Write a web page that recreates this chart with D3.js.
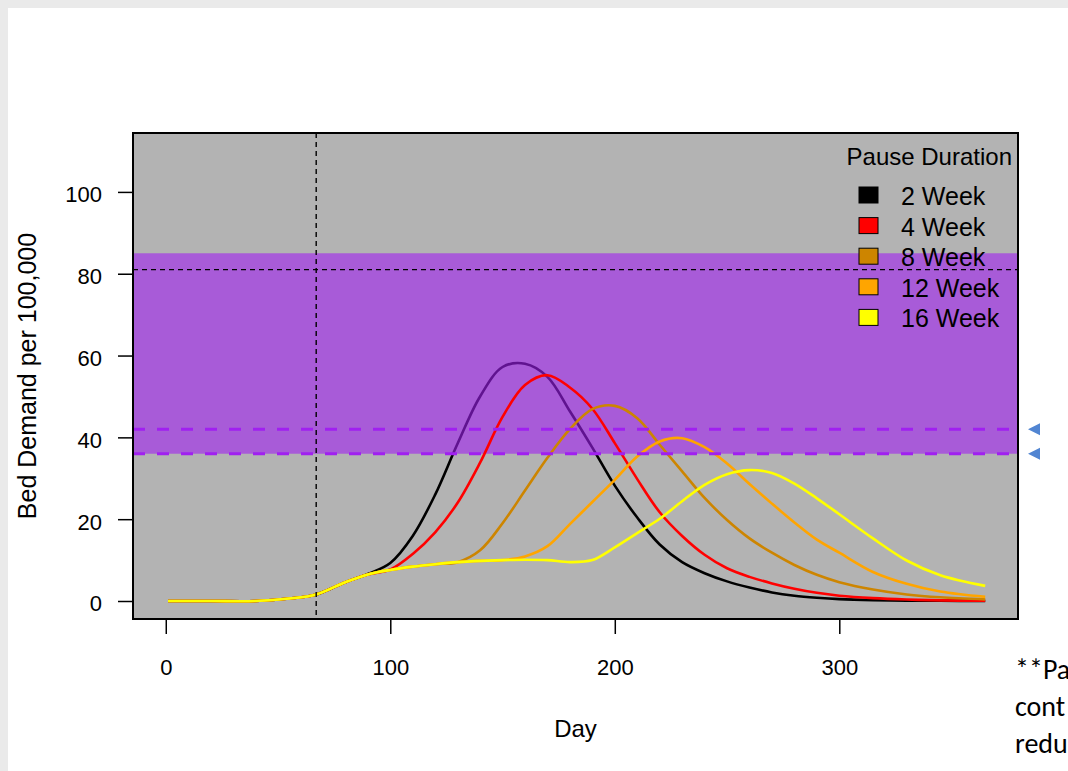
<!DOCTYPE html>
<html>
<head>
<meta charset="utf-8">
<script src="https://cdn.jsdelivr.net/npm/d3@7"></script>
<style>
  body { margin: 0; background: #ffffff; overflow: hidden; }
  svg { display: block; }
</style>
</head>
<body>
<svg id="chart"></svg>
<script>
// bed demand curves by pause duration
var days = [1, 20, 40, 55, 67, 80, 90, 100, 110, 120, 130, 140, 150, 160, 170, 180, 190, 200, 210, 220, 230, 240, 250, 260, 270, 280, 290, 300, 315, 330, 345, 365]

var week2 = [0, 0, 0, 0.6, 1.6, 4.6, 6.6, 9.3, 15.9, 26.0, 38.5, 50.0, 57.2, 58.0, 54.8, 46.4, 37.5, 28.2, 20.4, 13.8, 9.5, 6.8, 4.8, 3.3, 2.1, 1.3, 0.8, 0.45, 0.2, 0.1, 0.05, 0]
var week4 = [0, 0, 0, 0.6, 1.6, 4.6, 6.5, 7.7, 11.5, 16.8, 24.0, 33.8, 45.0, 52.8, 55.2, 52.2, 47.0, 38.6, 29.8, 21.7, 15.9, 11.3, 8.0, 5.9, 4.3, 3.0, 2.0, 1.3, 0.7, 0.35, 0.15, 0.05]
var week8 = [0, 0, 0, 0.6, 1.6, 4.6, 6.5, 7.6, 8.4, 9.0, 9.5, 12.4, 19.0, 27.0, 35.0, 42.0, 46.9, 47.7, 44.7, 38.2, 31.7, 25.2, 19.8, 15.3, 11.8, 8.8, 6.4, 4.6, 2.8, 1.6, 0.9, 0.4]
var week12 = [0, 0, 0, 0.6, 1.6, 4.6, 6.5, 7.6, 8.4, 9.0, 9.5, 9.8, 10.0, 10.9, 13.4, 18.8, 24.2, 29.6, 35.3, 39.0, 39.8, 37.6, 33.6, 28.6, 23.8, 19.2, 15.0, 11.8, 7.1, 4.2, 2.3, 1.0]
var week16 = [0, 0, 0, 0.6, 1.6, 4.6, 6.5, 7.6, 8.4, 9.0, 9.5, 9.8, 10.0, 10.1, 10.0, 9.5, 10.0, 13.1, 16.6, 20.1, 24.4, 28.4, 31.0, 32.0, 31.3, 28.7, 25.1, 21.2, 15.3, 9.9, 6.3, 3.7]

var seriesNames = ["2 Week", "4 Week", "8 Week", "12 Week", "16 Week"]
var seriesColors = ["#000000", "#FF0000", "#CD8500", "#FFA500", "#FFFF00"]
var seriesValues = [week2, week4, week8, week12, week16]

var xTicks = [0, 100, 200, 300]
var yTicks = [0, 20, 40, 60, 80, 100]

// reference lines and band
var bandLow = 36, bandHigh = 85
var purpleLines = [42, 36]
var blackLineY = 81
var blackLineX = 67

var W = 1068, H = 771
var panel = { left: 133, right: 1018, top: 133, bottom: 619 }
var font = "'Liberation Sans', Arial, sans-serif"

var svg = d3.select("#chart").attr("width", W).attr("height", H)

// slide frame
svg.append("rect").attr("width", W).attr("height", H).attr("fill", "#EAEAEA")
svg.append("rect").attr("x", 8).attr("y", 8).attr("width", W - 8).attr("height", H - 8).attr("fill", "#ffffff")

// R style limits, padded 4%
var xScale = d3.scaleLinear()
    .domain([0 - 365 * 0.04, 365 + 365 * 0.04])
    .range([panel.left, panel.right])
var yScale = d3.scaleLinear()
    .domain([0 - 110 * 0.04, 110 + 110 * 0.04])
    .range([panel.bottom, panel.top])

svg.append("rect")
    .attr("x", panel.left).attr("y", panel.top)
    .attr("width", panel.right - panel.left).attr("height", panel.bottom - panel.top)
    .attr("fill", "#B3B3B3")

var line = d3.line()
    .x(d => xScale(d[0]))
    .y(d => yScale(d[1]))
    .curve(d3.curveCatmullRom.alpha(0.5))

function drawSeries(i) {
    var pts = days.map((d, j) => [d, seriesValues[i][j]])
    svg.append("path")
        .attr("d", line(pts))
        .attr("fill", "none")
        .attr("stroke", seriesColors[i])
        .attr("stroke-width", 2.6)
        .attr("stroke-linejoin", "round")
}

// black curve sits under the shaded band
drawSeries(0)

svg.append("rect")
    .attr("x", panel.left - 1).attr("y", yScale(bandHigh))
    .attr("width", panel.right - panel.left + 2)
    .attr("height", yScale(bandLow) - yScale(bandHigh))
    .attr("fill", "#A020F0")
    .attr("fill-opacity", 0.6)

for (var i = 1; i < seriesValues.length; i++) drawSeries(i)

// dashed guides
svg.append("line")
    .attr("x1", panel.left).attr("x2", panel.right)
    .attr("y1", yScale(blackLineY)).attr("y2", yScale(blackLineY))
    .attr("stroke", "#000").attr("stroke-width", 1.4).attr("stroke-dasharray", "5,4")
svg.append("line")
    .attr("x1", xScale(blackLineX)).attr("x2", xScale(blackLineX))
    .attr("y1", panel.top).attr("y2", panel.bottom)
    .attr("stroke", "#000").attr("stroke-width", 1.4).attr("stroke-dasharray", "5,4")

svg.selectAll(".pline")
    .data(purpleLines)
    .enter()
    .append("line")
    .attr("x1", panel.left).attr("x2", panel.right)
    .attr("y1", d => yScale(d)).attr("y2", d => yScale(d))
    .attr("stroke", "#A020F0").attr("stroke-width", 3).attr("stroke-dasharray", "12,12")

// box
svg.append("rect")
    .attr("x", panel.left).attr("y", panel.top)
    .attr("width", panel.right - panel.left).attr("height", panel.bottom - panel.top)
    .attr("fill", "none").attr("stroke", "#000").attr("stroke-width", 2)

// axes
var xAxis = svg.append("g")
    .attr("transform", `translate(0,${panel.bottom})`)
    .call(d3.axisBottom(xScale).tickValues(xTicks).tickFormat(d3.format("d")).tickSize(15).tickPadding(25))
var yAxis = svg.append("g")
    .attr("transform", `translate(${panel.left},0)`)
    .call(d3.axisLeft(yScale).tickValues(yTicks).tickFormat(d3.format("d")).tickSize(15).tickPadding(16))

svg.selectAll(".domain").remove()
svg.selectAll(".tick line").attr("stroke", "#000").attr("stroke-width", 1.5)
svg.selectAll(".tick text").attr("fill", "#000").style("font-family", font).style("font-size", "22px")
yAxis.selectAll(".tick text").attr("dy", "0.45em")

svg.append("text")
    .attr("x", (panel.left + panel.right) / 2)
    .attr("y", 737)
    .attr("text-anchor", "middle")
    .style("font-family", font).style("font-size", "24px")
    .text("Day")

svg.append("text")
    .attr("transform", `translate(36,${(panel.top + panel.bottom) / 2})rotate(-90)`)
    .attr("text-anchor", "middle")
    .style("font-family", font).style("font-size", "25px")
    .text("Bed Demand per 100,000")

// legend
svg.append("text")
    .attr("x", 1012).attr("y", 165)
    .attr("text-anchor", "end")
    .style("font-family", font).style("font-size", "24px")
    .text("Pause Duration")

var legend = svg.selectAll(".leg")
    .data(seriesNames)
    .enter()
    .append("g")
    .attr("transform", (d, i) => `translate(0,${205 + i * 30.6})`)

legend.append("rect")
    .attr("x", 859).attr("y", -18)
    .attr("width", 19).attr("height", 16)
    .attr("fill", (d, i) => seriesColors[i])
    .attr("stroke", "#000").attr("stroke-width", 1)

legend.append("text")
    .attr("x", 901).attr("y", 0)
    .style("font-family", font).style("font-size", "25px")
    .text(d => d)

// blue markers beside the purple lines
svg.selectAll(".marker")
    .data(purpleLines)
    .enter()
    .append("path")
    .attr("d", d => `M1028,${yScale(d)}L1040,${yScale(d) - 6}L1040,${yScale(d) + 6}Z`)
    .attr("fill", "#5185D2")

// note text cut off at the right edge
var noteLines = ["**Pa", "cont", "redu"]
svg.selectAll(".note")
    .data(noteLines)
    .enter()
    .append("text")
    .attr("x", 1015)
    .attr("y", (d, i) => 679 + i * 37)
    .style("font-family", "Carlito, Lato, 'Open Sans', sans-serif")
    .style("font-size", "28px")
    .attr("fill", "#000")
    .text(d => d)
</script>
</body>
</html>
